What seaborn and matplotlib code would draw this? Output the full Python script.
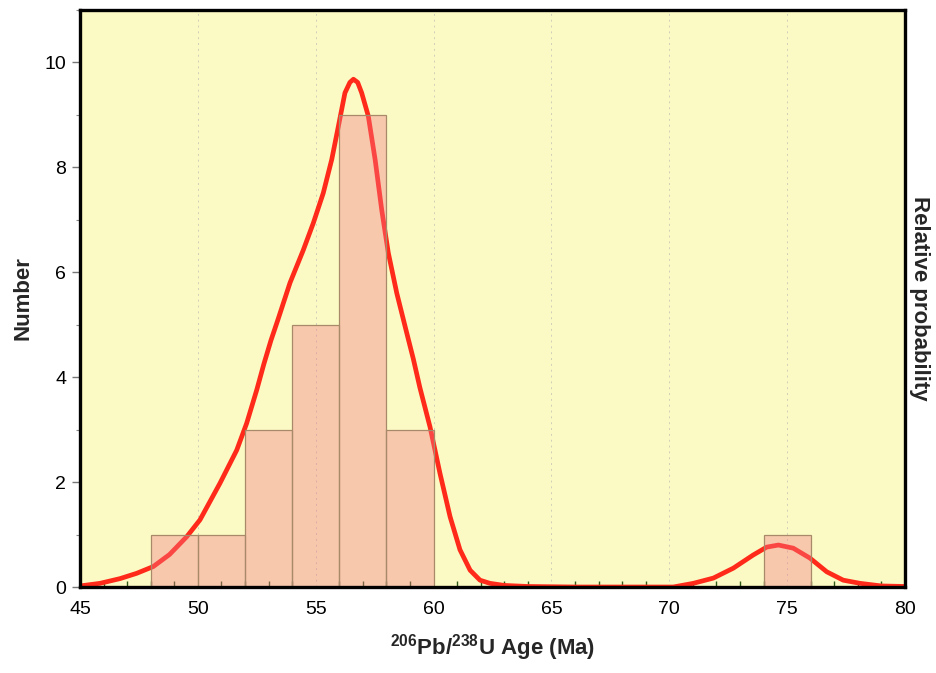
import numpy as np
import pandas as pd
import matplotlib
matplotlib.use("Agg")
import matplotlib.pyplot as plt
import seaborn as sns
from matplotlib.ticker import MultipleLocator

# Histogram of U-Pb zircon ages (2 Ma bins)
bin_edges = [48, 50, 52, 54, 56, 58, 60, 62, 64, 66, 68, 70, 72, 74, 76]
bin_counts = [1, 1, 3, 5, 9, 3, 0, 0, 0, 0, 0, 0, 0, 1]

# Relative probability curve (scaled to the count axis)
curve_age = [45.0, 45.85, 46.7, 47.4, 48.11, 48.8, 49.53, 50.09, 50.94, 51.65,
             52.07, 52.5, 52.8, 53.1, 53.4, 53.91, 54.47, 54.9, 55.32, 55.68,
             55.96, 56.24, 56.45, 56.6, 56.78, 56.95, 57.23, 57.52, 57.8, 58.08,
             58.44, 58.83, 59.14, 59.42, 59.85, 60.27, 60.7, 61.12, 61.55, 61.97,
             62.39, 63.0, 64.0, 66.0, 70.17, 71.02, 71.87, 72.72, 73.56, 74.13,
             74.63, 75.26, 75.97, 76.68, 77.38, 78.09, 79.0, 80.0]
curve_prob = [0.02, 0.07, 0.16, 0.26, 0.39, 0.62, 0.96, 1.28, 1.98, 2.61,
              3.12, 3.76, 4.25, 4.7, 5.1, 5.8, 6.42, 6.94, 7.51, 8.15,
              8.78, 9.42, 9.62, 9.68, 9.62, 9.42, 8.98, 8.15, 7.19, 6.37,
              5.6, 4.9, 4.35, 3.8, 3.05, 2.17, 1.34, 0.71, 0.32, 0.13,
              0.07, 0.03, 0.01, 0.0, 0.0, 0.07, 0.17, 0.36, 0.61, 0.76,
              0.80, 0.74, 0.55, 0.29, 0.13, 0.07, 0.02, 0.01]

x_ticks = [45, 50, 55, 60, 65, 70, 75, 80]
y_ticks = [0, 2, 4, 6, 8, 10]

sns.set_theme(style="white")
plt.rcParams["font.family"] = ["Liberation Sans", "DejaVu Sans"]
plt.rcParams["mathtext.fontset"] = "custom"
plt.rcParams["mathtext.rm"] = "Liberation Sans:bold"
plt.rcParams["mathtext.bf"] = "Liberation Sans:bold"

fig = plt.figure(figsize=(9.37, 6.73), dpi=100)
ax = fig.add_axes([80 / 937, 1 - 587 / 673, 825 / 937, 577 / 673])
ax.set_facecolor("#FCFAC4")

# faint dotted verticals every 5 Ma
for xv in x_ticks[1:-1]:
    ax.axvline(xv, color="#cfcfb8", lw=0.7, ls=(0, (2, 4)), zorder=0.5)

curve = pd.DataFrame({"age": curve_age, "prob": curve_prob})
sns.lineplot(data=curve, x="age", y="prob", ax=ax, color="#FF2A1A", lw=3.4,
             zorder=2, sort=False, solid_joinstyle="round",
             solid_capstyle="round")

centers = [(bin_edges[i] + bin_edges[i + 1]) / 2 for i in range(len(bin_counts))]
hist = pd.DataFrame({"age": centers, "n": bin_counts})
sns.histplot(data=hist, x="age", weights="n", bins=bin_edges, ax=ax,
             color="#F47888", alpha=0.38, edgecolor="#A88A6A", linewidth=0.9,
             zorder=3)

ax.set_xlim(45, 80)
ax.set_ylim(0, 11.0)
ax.set_xticks(x_ticks)
ax.set_yticks(y_ticks)
ax.xaxis.set_minor_locator(MultipleLocator(1))
ax.yaxis.set_minor_locator(MultipleLocator(1))
ax.tick_params(axis="both", which="major", labelsize=14, colors="black",
               direction="out", length=6, width=1.0, pad=4)
ax.tick_params(axis="x", which="minor", direction="in", length=4, width=1.0,
               color="#2f5a1a", bottom=True)
ax.tick_params(axis="y", which="minor", direction="out", length=3, width=0.8,
               color="#888888", left=True)
ax.tick_params(axis="y", which="major", color="#777777")
ax.tick_params(axis="x", which="major", color="#333333")

for side in ["left", "right", "top", "bottom"]:
    ax.spines[side].set_visible(True)
    ax.spines[side].set_color("black")
    ax.spines[side].set_linewidth(2.4)
    ax.spines[side].set_zorder(5)

ax.set_xlabel(r"$^{206}$Pb/$^{238}$U Age (Ma)", fontsize=16, fontweight="bold",
              labelpad=10)
ax.set_ylabel("Number", fontsize=16, fontweight="bold", labelpad=8)
ax.grid(False)

ax2 = ax.twinx()
ax2.set_yticks([])
ax2.set_ylabel("Relative probability", fontsize=16, fontweight="bold",
               rotation=-90, labelpad=18)
for side in ["left", "right", "top", "bottom"]:
    ax2.spines[side].set_visible(False)

fig.savefig("out.png", dpi=100)
